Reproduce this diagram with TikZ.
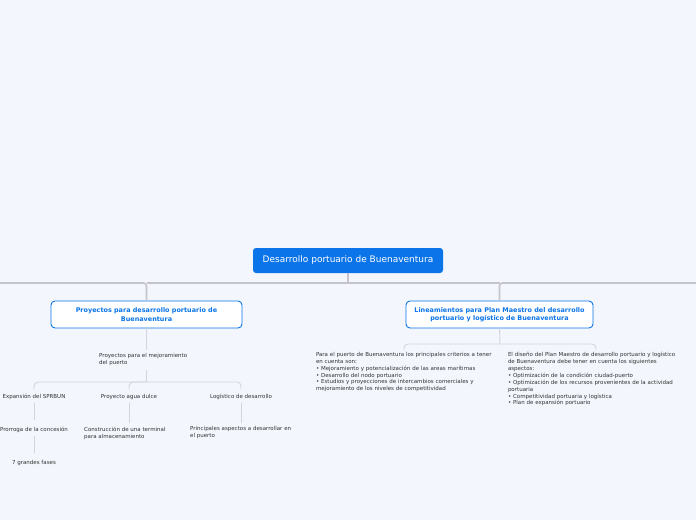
\documentclass[tikz,border=0pt]{standalone}
\usepackage{fontspec}
\setmainfont{DejaVu Sans}
\usetikzlibrary{calc}

\definecolor{bgmap}{RGB}{243,246,253}
\definecolor{rootblue}{RGB}{10,116,232}
\definecolor{mainline}{RGB}{196,196,202}
\definecolor{subline}{RGB}{210,212,220}
\definecolor{leaftext}{RGB}{51,51,51}

\tikzset{
  rootbox/.style={fill=rootblue, text=white, rounded corners=3pt,
    minimum width=190pt, minimum height=25pt, inner sep=0pt,
    font=\fontsize{9}{11}\selectfont},
  mainbox/.style={draw=rootblue, fill=white, line width=0.9pt, rounded corners=4pt,
    minimum height=27pt, inner sep=0pt, text=rootblue, align=center,
    font=\fontsize{6.45}{8.4}\selectfont\bfseries},
  leaf/.style={text=leaftext, inner sep=0pt, align=left,
    font=\fontsize{5.5}{6.9}\selectfont},
  thickline/.style={draw=mainline, line width=1.6pt, rounded corners=3pt},
  thinline/.style={draw=subline, line width=0.9pt, rounded corners=4pt}
}

\begin{document}
\begin{tikzpicture}[x=1pt,y=-1pt]

  \fill[bgmap] (0,0) rectangle (696,520);
  \useasboundingbox (0,0) rectangle (696,520);

  % root and main branches
  \node[rootbox] (root) at (348,260.5) {Desarrollo portuario de Buenaventura};
  \node[mainbox, minimum width=191pt] (proy) at (146.5,314.5)
    {Proyectos para desarrollo portuario de\\Buenaventura};
  \node[mainbox, minimum width=187pt] (linea) at (499.5,314.5)
    {Lineamientos para Plan Maestro del desarrollo\\portuario y logístico de Buenaventura};

  \coordinate (trunk) at (348,283);
  \coordinate (edgeL) at (0,283);
  \coordinate (edgeR) at (696,283);
  \draw[thickline] (root.south) -- (trunk);
  \draw[thickline] (edgeL) -| (proy.north);
  \draw[thickline] (edgeR) -| (linea.north);
  \draw[thickline] (proy.north |- trunk) -- (linea.north |- trunk);

  % left branch
  \node[leaf, anchor=north west] (mejora) at (99,353.5)
    {Proyectos para el mejoramiento\\del puerto};
  \draw[thinline] (proy.south) -- ($(proy.south |- mejora.north)+(0,-3.5)$);

  \coordinate (fork1) at (146,382);
  \node[leaf, anchor=base] (expa) at (34,398) {Expansión del SPRBUN};
  \node[leaf, anchor=base] (agua) at (129,398) {Proyecto agua dulce};
  \node[leaf, anchor=base] (logi) at (241,398) {Logístico de desarrollo};
  \draw[thinline] ($(mejora.south -| fork1)+(0,4)$) -- (fork1);
  \draw[thinline] ($(expa.base)+(0,-8.5)$) |- (fork1) -| ($(logi.base)+(0,-8.5)$);
  \draw[thinline] (fork1) -| ($(agua.base)+(0,-8.5)$);

  \node[leaf, anchor=base] (prorroga) at (34,431) {Prorroga de la concesión};
  \node[leaf, anchor=base] (fases) at (34,464) {7 grandes fases};
  \draw[thinline] ($(expa.base)+(0,5)$) -- ($(prorroga.base)+(0,-11)$);
  \draw[thinline] ($(prorroga.base)+(0,5)$) -- ($(fases.base)+(0,-11)$);

  \node[leaf, anchor=north west] (termi) at (84,426.5)
    {Construcción de una terminal\\para almacenamiento};
  \node[leaf, anchor=north west] (princ) at (190,426.5)
    {Principales aspectos a desarrollar en\\el puerto};
  \draw[thinline] ($(agua.base)+(0,5)$) -- ($(agua.base |- termi.north)+(0,-4)$);
  \draw[thinline] ($(logi.base)+(0,5)$) -- ($(logi.base |- princ.north)+(0,-4)$);

  % right branch
  \node[leaf, anchor=north, text width=176pt] (criterios) at (404,352)
    {Para el puerto de Buenaventura los principales criterios a tener\\
     en cuenta son:\\
     • Mejoramiento y potencialización de las areas marítimas\\
     • Desarrollo del nodo portuario\\
     • Estudios y proyecciones de intercambios comerciales y\\
     mejoramiento de los niveles de competitividad};
  \node[leaf, anchor=north, text width=176pt] (diseno) at (596,352)
    {El diseño del Plan Maestro de desarrollo portuario y logístico\\
     de Buenaventura debe tener en cuenta los siguientes\\
     aspectos:\\
     • Optimización de la condición ciudad-puerto\\
     • Optimización de los recursos provenientes de la actividad\\
     portuaria\\
     • Competitividad portuaria y logística\\
     • Plan de expansión portuario};

  \coordinate (fork2) at (500,344);
  \draw[thinline] (linea.south) -- (fork2);
  \draw[thinline] ($(criterios.north)+(0,-2)$) |- (fork2) -| ($(diseno.north)+(0,-2)$);

\end{tikzpicture}
\end{document}
